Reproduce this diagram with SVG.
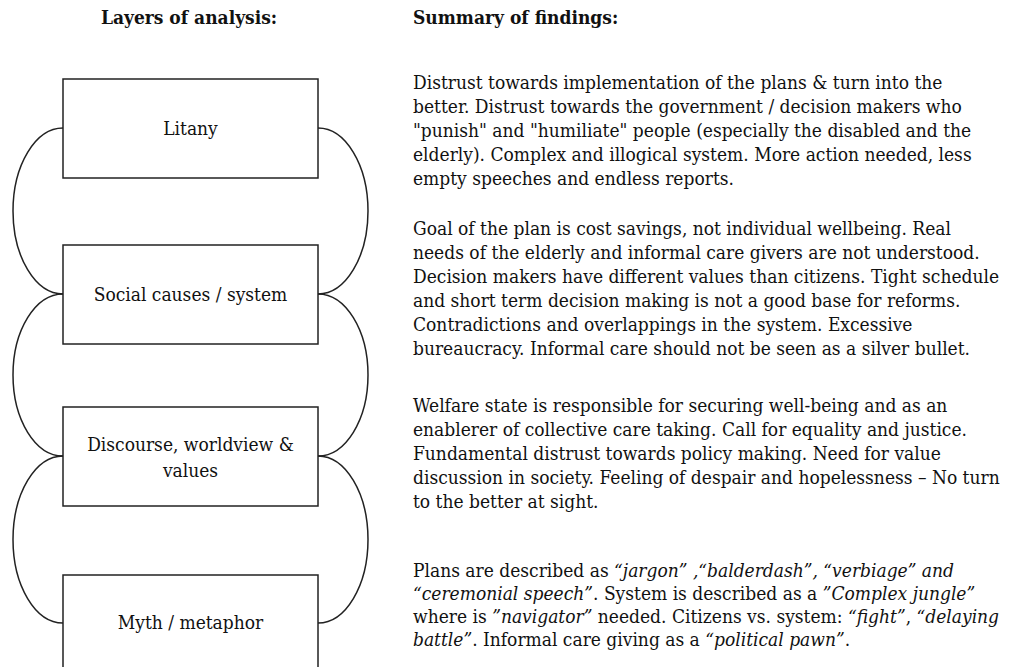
<svg xmlns="http://www.w3.org/2000/svg" width="1016" height="667" viewBox="0 0 1016 667">
  <style>
    text { font-family: "DejaVu Serif", "Liberation Serif", serif; font-stretch: condensed; fill: #111; }
    .head { font-size: 19px; font-weight: bold; }
    .label { font-size: 19px; text-anchor: middle; }
    .body { font-size: 19px; }
    .i { font-style: italic; }
    .box { fill: #fff; stroke: #222; stroke-width: 1.5; }
    .link { fill: none; stroke: #222; stroke-width: 1.5; }
  </style>
  <rect width="1016" height="667" fill="#fff"/>

  <text class="head" x="189" y="24" text-anchor="middle">Layers of analysis:</text>
  <text class="head" x="413" y="24">Summary of findings:</text>

  <!-- loops joining neighbouring layers, left and right -->
  <g id="connectors">
    <path class="link" d="M63,128 A50,83 0 0 0 13,211 A50,83 0 0 0 63,294"/>
    <path class="link" d="M63,294 A50,81 0 0 0 13,375 A50,81 0 0 0 63,456"/>
    <path class="link" d="M63,456 A50,83.5 0 0 0 13,539.5 A50,83.5 0 0 0 63,623"/>
    <path class="link" d="M318,128 A50,83 0 0 1 368,211 A50,83 0 0 1 318,294"/>
    <path class="link" d="M318,294 A50,81 0 0 1 368,375 A50,81 0 0 1 318,456"/>
    <path class="link" d="M318,456 A50,83.5 0 0 1 368,539.5 A50,83.5 0 0 1 318,623"/>
  </g>

  <g id="litany">
    <rect class="box" x="63" y="79" width="255" height="99"/>
    <text class="label" x="190.5" y="135">Litany</text>
  </g>
  <g id="social">
    <rect class="box" x="63" y="245" width="255" height="99"/>
    <text class="label" x="190.5" y="301">Social causes / system</text>
  </g>
  <g id="discourse">
    <rect class="box" x="63" y="407" width="255" height="99"/>
    <text class="label" x="190.5" y="451">Discourse, worldview &amp;</text>
    <text class="label" x="190.5" y="477">values</text>
  </g>
  <g id="myth">
    <rect class="box" x="63" y="575" width="255" height="99"/>
    <text class="label" x="190.5" y="629">Myth / metaphor</text>
  </g>

  <g id="summary-litany" class="body">
    <text x="413" y="89">Distrust towards implementation of the plans &amp; turn into the</text>
    <text x="413" y="113">better. Distrust towards the government / decision makers who</text>
    <text x="413" y="137">"punish" and "humiliate" people (especially the disabled and the</text>
    <text x="413" y="161">elderly). Complex and illogical system. More action needed, less</text>
    <text x="413" y="185">empty speeches and endless reports.</text>
  </g>
  <g id="summary-social" class="body">
    <text x="413" y="235">Goal of the plan is cost savings, not individual wellbeing. Real</text>
    <text x="413" y="259">needs of the elderly and informal care givers are not understood.</text>
    <text x="413" y="283">Decision makers have different values than citizens. Tight schedule</text>
    <text x="413" y="307">and short term decision making is not a good base for reforms.</text>
    <text x="413" y="331">Contradictions and overlappings in the system. Excessive</text>
    <text x="413" y="355">bureaucracy. Informal care should not be seen as a silver bullet.</text>
  </g>
  <g id="summary-discourse" class="body">
    <text x="413" y="412">Welfare state is responsible for securing well-being and as an</text>
    <text x="413" y="436">enablerer of collective care taking. Call for equality and justice.</text>
    <text x="413" y="460">Fundamental distrust towards policy making. Need for value</text>
    <text x="413" y="484">discussion in society. Feeling of despair and hopelessness – No turn</text>
    <text x="413" y="508">to the better at sight.</text>
  </g>
  <g id="summary-myth" class="body">
    <text x="413" y="577">Plans are described as <tspan class="i">“jargon” ,“balderdash”, “verbiage” and</tspan></text>
    <text x="413" y="600"><tspan class="i">“ceremonial speech”</tspan>. System is described as a <tspan class="i">”Complex jungle”</tspan></text>
    <text x="413" y="623">where is <tspan class="i">”navigator”</tspan> needed. Citizens vs. system: <tspan class="i">“fight”</tspan>, <tspan class="i">“delaying</tspan></text>
    <text x="413" y="646"><tspan class="i">battle”</tspan>. Informal care giving as a <tspan class="i">“political pawn”</tspan>.</text>
  </g>
</svg>
